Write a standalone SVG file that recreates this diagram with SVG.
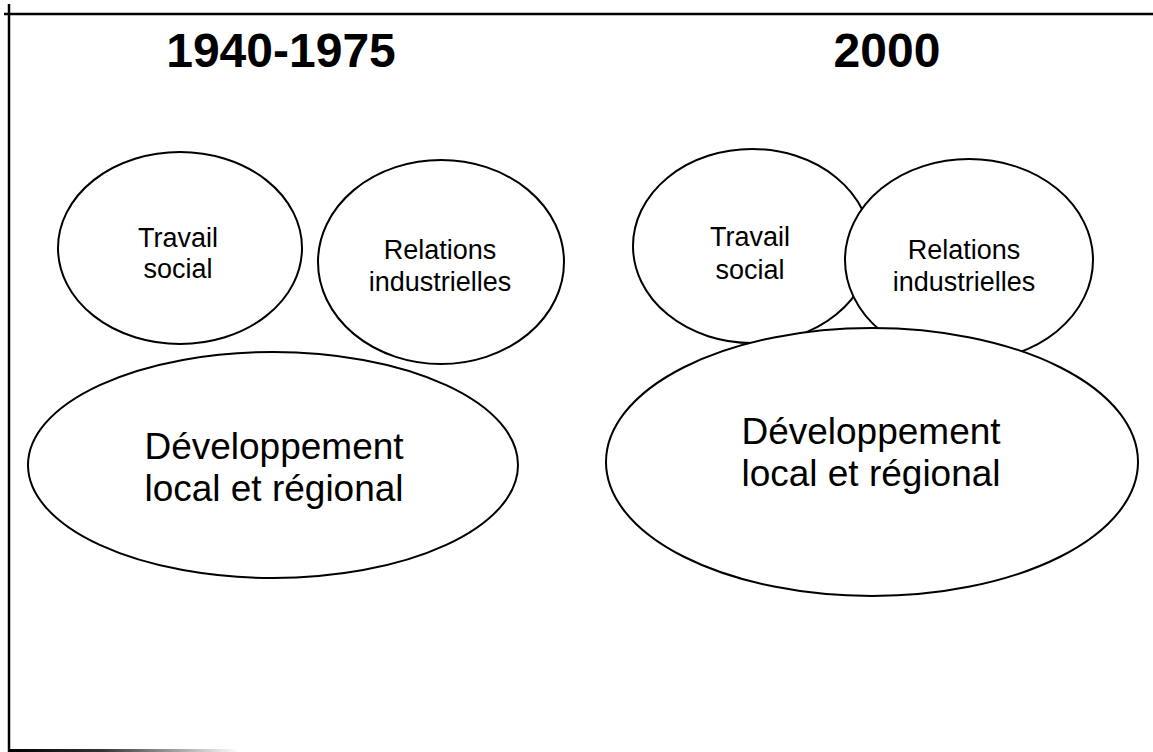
<svg xmlns="http://www.w3.org/2000/svg" width="1153" height="752" viewBox="0 0 1153 752">
<style>
.el{fill:#fff;stroke:#000;stroke-width:2}
.t{font-family:"Liberation Sans",Arial,sans-serif;fill:#000;text-anchor:middle}
.s{font-size:27px}
.b{font-size:37px}
.h{font-size:48px;font-weight:bold}
.fr{stroke:#000;stroke-width:2.5;fill:none}
</style>
<defs>
<linearGradient id="fade" x1="0" x2="1" y1="0" y2="0">
<stop offset="0" stop-color="#000"/>
<stop offset="0.4" stop-color="#333"/>
<stop offset="1" stop-color="#fff"/>
</linearGradient>
</defs>
<rect width="1153" height="752" fill="#fff"/>
<g id="frame">
<line class="fr" x1="4" y1="14" x2="1153" y2="14"/>
<line class="fr" x1="9" y1="4" x2="9" y2="752"/>
<rect x="9" y="749" width="230" height="3" fill="url(#fade)"/>
</g>
<g id="title-1940">
<text class="t h" x="281" y="67">1940-1975</text>
</g>
<g id="title-2000">
<text class="t h" x="887" y="67">2000</text>
</g>
<g id="left-travail">
<ellipse class="el" cx="180" cy="248" rx="122" ry="96"/>
<text class="t s" x="178" y="247">Travail</text>
<text class="t s" x="178" y="278">social</text>
</g>
<g id="left-relations">
<ellipse class="el" cx="441" cy="262" rx="123" ry="102"/>
<text class="t s" x="440" y="259">Relations</text>
<text class="t s" x="440" y="291">industrielles</text>
</g>
<g id="left-dev">
<ellipse class="el" cx="273" cy="465" rx="245" ry="113"/>
<text class="t b" x="274" y="459">Développement</text>
<text class="t b" x="274" y="501">local et régional</text>
</g>
<g id="right-travail">
<ellipse class="el" cx="752" cy="246" rx="119" ry="97"/>
<text class="t s" x="750" y="246">Travail</text>
<text class="t s" x="750" y="279">social</text>
</g>
<g id="right-relations">
<ellipse class="el" cx="969" cy="260" rx="124" ry="101"/>
<text class="t s" x="964" y="259">Relations</text>
<text class="t s" x="964" y="291">industrielles</text>
</g>
<g id="right-dev">
<ellipse class="el" cx="872" cy="462" rx="266" ry="134"/>
<text class="t b" x="871" y="444">Développement</text>
<text class="t b" x="871" y="486">local et régional</text>
</g>
<g id="connectors"></g>
</svg>
